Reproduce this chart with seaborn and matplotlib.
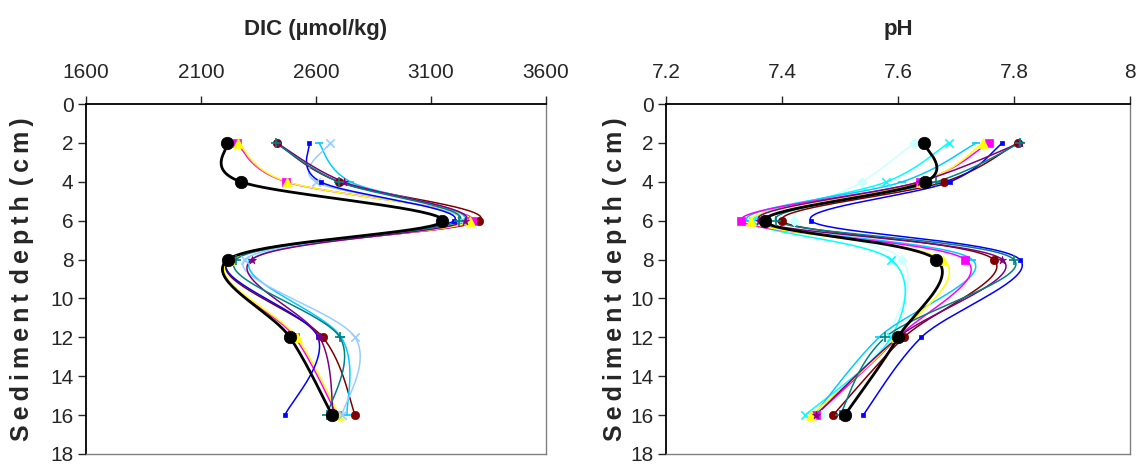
import numpy as np
import pandas as pd
import seaborn as sns
import matplotlib.pyplot as plt

# -----------------------------
# DATA
# -----------------------------
depth = [2, 4, 6, 8, 12, 16]

dic_black = [2213, 2274, 3150, 2217, 2487, 2670]
dic_darkred = [2430, 2700, 3310, 2226, 2630, 2770]
dic_magenta = [2255, 2470, 3280, 2222, 2509, 2691]
dic_yellow = [2262, 2475, 3270, 2228, 2517, 2700]
dic_skyblue = [2613, 2750, 3240, 2320, 2710, 2735]
dic_lightblue = [2661, 2600, 3230, 2290, 2770, 2713]
dic_blue = [2570, 2620, 3200, 2222, 2609, 2465]
dic_purple = [2430, 2720, 3250, 2320, 2617, 2675]
dic_teal = [2425, 2700, 3220, 2252, 2704, 2648]

ph_black = [7.645, 7.647, 7.37, 7.666, 7.60, 7.508]
ph_darkred = [7.806, 7.68, 7.40, 7.765, 7.61, 7.488]
ph_magenta = [7.756, 7.637, 7.33, 7.716, 7.60, 7.458]
ph_yellow = [7.746, 7.64, 7.346, 7.677, 7.597, 7.45]
ph_cyan = [7.687, 7.58, 7.35, 7.588, 7.588, 7.44]
ph_skyblue = [7.735, 7.607, 7.34, 7.728, 7.567, 7.455]
ph_palecyan = [7.628, 7.538, 7.42, 7.607, 7.58, 7.468]
ph_blue = [7.78, 7.689, 7.45, 7.81, 7.64, 7.54]
ph_purple = [7.81, 7.637, 7.36, 7.78, 7.60, 7.458]
ph_teal = [7.81, 7.666, 7.39, 7.80, 7.578, 7.50]

dic_ticks = [1600, 2100, 2600, 3100, 3600]
ph_ticks = [7.2, 7.4, 7.6, 7.8, 8.0]
ph_ticklabels = ["7.2", "7.4", "7.6", "7.8", "8"]

# -----------------------------
# STYLES
# -----------------------------
# name: (colour, marker, markersize, linewidth)
styles = {
    "darkred": ("#800000", "o", 6, 1.1),
    "magenta": ("#FF00FF", "s", 6, 1.1),
    "yellow": ("#FFFF00", "^", 7, 1.1),
    "cyan": ("#00FFFF", "x", 6, 1.1),
    "skyblue": ("#00CCFF", "_", 6, 1.1),
    "lightblue": ("#99CCFF", "x", 6, 1.1),
    "palecyan": ("#CCFFFF", "D", 5, 1.1),
    "blue": ("#0000FF", "s", 2.5, 1.1),
    "purple": ("#800080", "*", 6, 1.1),
    "teal": ("#008080", "+", 7, 1.1),
    "black": ("#000000", "o", 9, 2.0),
}

dic_series = {
    "darkred": dic_darkred, "magenta": dic_magenta, "yellow": dic_yellow,
    "skyblue": dic_skyblue, "lightblue": dic_lightblue, "blue": dic_blue,
    "purple": dic_purple, "teal": dic_teal, "black": dic_black,
}
ph_series = {
    "palecyan": ph_palecyan, "cyan": ph_cyan, "skyblue": ph_skyblue,
    "darkred": ph_darkred, "magenta": ph_magenta, "yellow": ph_yellow,
    "blue": ph_blue, "purple": ph_purple, "teal": ph_teal, "black": ph_black,
}


def smooth(x, y, n=40):
    # Excel-style smoothed line (Catmull-Rom bezier through the points)
    pts = np.column_stack([x, y]).astype(float)
    P = np.vstack([pts[0], pts, pts[-1]])
    t = np.linspace(0, 1, n)[:, None]
    segs = []
    for i in range(1, len(P) - 2):
        p0, p1, p2, p3 = P[i - 1], P[i], P[i + 1], P[i + 2]
        c1 = p1 + (p2 - p0) / 6
        c2 = p2 - (p3 - p1) / 6
        segs.append((1 - t) ** 3 * p1 + 3 * (1 - t) ** 2 * t * c1
                    + 3 * (1 - t) * t ** 2 * c2 + t ** 3 * p2)
    return np.vstack(segs)


sns.set_style("white")
plt.rcParams["font.family"] = ["Liberation Sans", "DejaVu Sans"]

fig = plt.figure(figsize=(11.37, 4.69), dpi=100)
ax1 = fig.add_axes([0.0756, 0.032, 0.4046, 0.746])
ax2 = fig.add_axes([0.5858, 0.032, 0.4081, 0.746])

# letter-spaced axis label, as in the original
ylab = ("\u2009".join("Sediment") + "\u2009\u2009" + "\u2009".join("depth")
        + "\u2009\u2009(\u2009c\u2009m\u2009)")


def draw_panel(ax, series, xlim, ticks, ticklabels, title, ylab_x):
    for name, vals in series.items():
        col, mk, ms, lw = styles[name]
        curve = smooth(vals, depth)
        ax.plot(curve[:, 0], curve[:, 1], color=col, lw=lw, zorder=2)
        df = pd.DataFrame({"x": vals, "depth": depth})
        sns.scatterplot(data=df, x="x", y="depth", ax=ax, marker=mk,
                        s=ms ** 2, color=col, edgecolor=col,
                        linewidth=1.2 if mk in ("x", "+", "_") else 0.5,
                        zorder=3, legend=False)
    ax.set_xlim(*xlim)
    ax.set_ylim(18, 0)
    ax.set_yticks(range(0, 19, 2))
    ax.set_xticks(ticks)
    ax.set_xticklabels(ticklabels)
    ax.xaxis.tick_top()
    ax.xaxis.set_label_position("top")
    ax.set_xlabel(title, fontsize=16, fontweight="bold", labelpad=20)
    ax.set_ylabel(ylab, fontsize=18, fontweight="bold")
    ax.yaxis.set_label_coords(ylab_x, 0.5)
    ax.tick_params(axis="x", top=True, bottom=False, direction="out",
                   length=6, width=1, labelsize=15, pad=10)
    ax.tick_params(axis="y", left=True, direction="out", length=6,
                   width=1, labelsize=15, pad=3)
    for s in ("top", "left"):
        ax.spines[s].set_color("black")
        ax.spines[s].set_linewidth(1.3)
    for s in ("right", "bottom"):
        ax.spines[s].set_color("#808080")
        ax.spines[s].set_linewidth(1.0)


draw_panel(ax1, dic_series, (1600, 3600), dic_ticks, [str(t) for t in dic_ticks],
           "DIC (\u00b5mol/kg)", -0.113)
draw_panel(ax2, ph_series, (7.2, 8.0), ph_ticks, ph_ticklabels, "pH", -0.085)

plt.savefig("out.png", dpi=100)
plt.close(fig)
